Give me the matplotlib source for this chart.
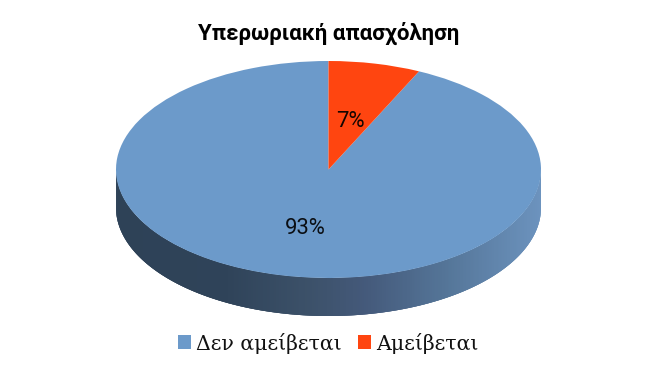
import numpy as np
import matplotlib
matplotlib.use("Agg")
import matplotlib.pyplot as plt
from matplotlib.collections import PolyCollection
from matplotlib.colors import LinearSegmentedColormap
from matplotlib.patches import Patch

title = "Υπερωριακή απασχόληση"
categories = ["Δεν αμείβεται", "Αμείβεται"]
values = [93, 7]
colors = ["#6C9ACA", "#FF4510"]
labels = ["93%", "7%"]

W, H = 656, 369
fig = plt.figure(figsize=(W / 100, H / 100), dpi=100, facecolor="white")
ax = fig.add_axes([0, 0, 1, 1])

cx, cy, rx, ry, depth = 328.5, 169.5, 212.5, 108.5, 38.0

# side of the disc: overlapping slices painted left to right
d = depth / ry
cmap = LinearSegmentedColormap.from_list(
    "side",
    [(0.0, "#2E4257"), (0.25, "#2F4359"), (0.45, "#3C5169"), (0.58, "#44597A"),
     (0.78, "#557699"), (1.0, "#6C93BE")],
)
t = np.radians(np.linspace(180, 360, 361))
xs, ys = np.cos(t), np.sin(t)
polys = []
for i in range(len(t) - 1):
    j = min(i + 3, len(t) - 1)
    arc = list(zip(xs[i:j + 1], ys[i:j + 1]))
    low = [(x, y - d) for x, y in arc][::-1]
    polys.append(arc + low)
fc = [cmap((xs[i] + 1) / 2) for i in range(len(t) - 1)]
ax.add_collection(PolyCollection(polys, facecolors=fc, edgecolors="none", linewidths=0, zorder=1))

wedges, _ = ax.pie(values, colors=colors, startangle=90, counterclock=True,
                   radius=1, center=(0, 0), frame=True,
                   wedgeprops=dict(linewidth=0))
for w in wedges:
    w.set_zorder(2)
ax.set_aspect("auto")
ax.set_xlim((0 - cx) / rx, (W - cx) / rx)
ax.set_ylim((cy - H) / ry, (cy - 0) / ry)
ax.axis("off")

ax.text(329 / W, 1 - 33 / H, title, transform=ax.transAxes, ha="center", va="center",
        family="Roboto", fontweight="bold", fontsize=16, color="black")

ax.text(-0.11, -0.54, labels[0], ha="center", va="center", family="Roboto", fontsize=15.8, color="#0b0f14", zorder=3)
ax.text(0.105, 0.44, labels[1], ha="center", va="center", family="Roboto", fontsize=15.8, color="#140500", zorder=3)

handles = [Patch(facecolor=c, edgecolor="none") for c in colors]
ax.legend(handles, categories, loc="center", bbox_to_anchor=(328.5 / W, 1 - 343 / H),
          ncol=2, frameon=False, prop={"family": "DejaVu Serif", "size": 14.8},
          handlelength=0.63, handleheight=0.65, handletextpad=0.25, columnspacing=0.78,
          labelcolor="#111111")

fig.savefig("out.png", dpi=100, facecolor="white")
